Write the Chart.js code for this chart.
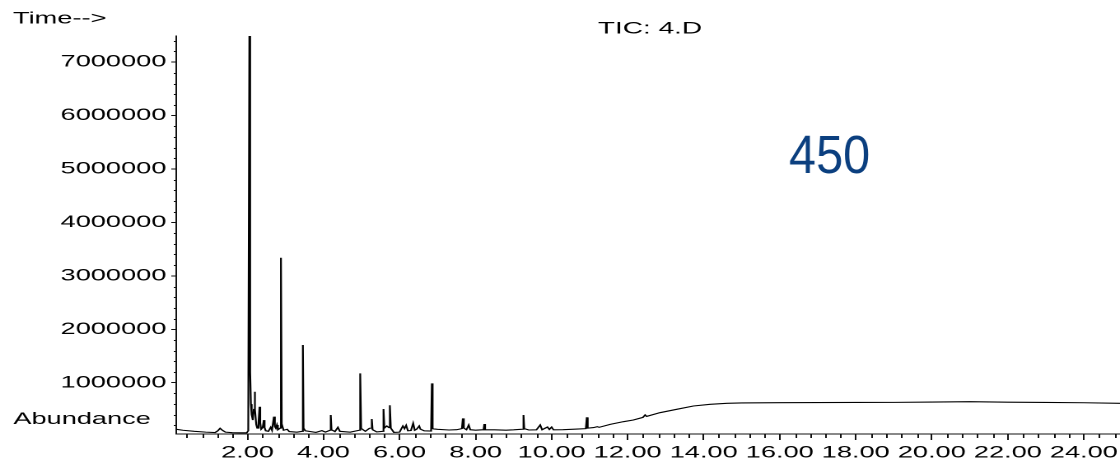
<!DOCTYPE html>
<html>
<head>
<meta charset="utf-8">
<title>TIC: 4.D</title>
<script src="https://cdn.jsdelivr.net/npm/chart.js@4.4.1/dist/chart.umd.min.js"></script>
<style>
  html, body { margin: 0; padding: 0; background: #fff; overflow: hidden; }
  /* the printout is stretched sideways, so the whole canvas is too */
  #wrap { width: 680px; height: 462px; transform: scaleX(1.647); transform-origin: 0 0; }
</style>
</head>
<body>
<div id="wrap"><canvas id="ticChart" width="680" height="462"></canvas></div>
<script>
// retention time (min) and abundance
var retTime = [
  0.13, 0.3, 0.6, 0.9, 1.15, 1.22, 1.28, 1.34, 1.42, 1.6, 1.8, 1.98,
  2.02, 2.05, 2.07, 2.09, 2.11, 2.14, 2.165, 2.186, 2.205,
  2.23, 2.256, 2.29, 2.317, 2.335, 2.36, 2.40, 2.43, 2.45, 2.48, 2.55, 2.61,
  2.645, 2.695, 2.72, 2.745, 2.774, 2.80, 2.86, 2.88, 2.90, 2.95,
  3.045, 3.1, 3.3, 3.44, 3.457, 3.475, 3.52, 3.8, 3.957, 4.05, 4.17, 4.19,
  4.21, 4.30, 4.378, 4.43, 4.7, 4.94, 4.965, 4.99, 5.02, 5.1, 5.21,
  5.25, 5.27, 5.29, 5.40, 5.56, 5.578, 5.60, 5.665, 5.72, 5.745, 5.77, 5.85,
  6.0, 6.087, 6.13, 6.174, 6.22, 6.30, 6.358, 6.40, 6.45, 6.517, 6.55, 6.65,
  6.83, 6.85, 6.87, 6.9, 7.0, 7.3, 7.5, 7.64, 7.665, 7.69, 7.76,
  7.82, 7.86, 8.0, 8.21, 8.23, 8.25, 8.5, 8.8, 9.0, 9.24, 9.26, 9.28,
  9.40, 9.6, 9.70, 9.75, 9.89, 9.94, 10.0, 10.05, 10.3, 10.6, 10.9, 10.925,
  10.95, 11.1, 11.2, 11.25, 11.54, 11.89, 12.15, 12.4, 12.46, 12.5, 12.85, 13.29,
  13.73, 14.17, 14.61, 15.0, 16.0, 17.0, 18.0, 19.0, 20.0, 21.0, 22.0, 23.0,
  24.0, 24.95
];
var abundance = [
  128000, 110000, 90000, 75000, 68000, 100000, 147000, 110000, 75000, 65000, 62000, 62000,
  100000, 7490000, 1200000, 600000, 400000, 300000, 500000, 830000, 500000,
  220000, 150000, 250000, 550000, 250000, 130000, 160000, 300000, 160000, 100000, 90000, 165000,
  110000, 365000, 180000, 150000, 208000, 120000, 150000, 3340000, 230000, 110000,
  128000, 85000, 75000, 90000, 1705000, 150000, 100000, 70000, 102000, 75000, 110000, 396000,
  120000, 85000, 165000, 90000, 75000, 110000, 1175000, 140000, 130000, 90000, 147000,
  150000, 321000, 120000, 80000, 90000, 508000, 150000, 190000, 160000, 577000, 150000, 70000,
  75000, 190000, 140000, 202000, 100000, 105000, 240000, 110000, 130000, 190000, 130000, 100000,
  95000, 988000, 140000, 135000, 128000, 115000, 120000, 140000, 333000, 150000, 120000,
  208000, 120000, 112000, 120000, 227000, 120000, 118000, 112000, 118000, 130000, 396000, 140000,
  115000, 118000, 208000, 120000, 170000, 125000, 170000, 118000, 120000, 130000, 140000, 352000,
  150000, 160000, 177000, 165000, 221000, 271000, 302000, 350000, 396000, 370000, 439000, 502000,
  564000, 595000, 614000, 622000, 626000, 628000, 630000, 632000, 638000, 645000, 636000, 630000,
  625000, 614000
];

// axis labels
var timeTicks = [2, 4, 6, 8, 10, 12, 14, 16, 18, 20, 22, 24];
var abundTicks = [1000000, 2000000, 3000000, 4000000, 5000000, 6000000, 7000000];

var SX = 1.647;
var FONT = '"Liberation Sans", Arial, Helvetica, sans-serif';

var points = [];
for (var i = 0; i < retTime.length; i++) {
  points.push({x: retTime[i], y: abundance[i]});
}

//small ticks and the free texts of the printout
var extras = {
  id: 'extras',
  afterDraw: function (chart) {
    var ctx = chart.ctx;
    var xs = chart.scales.x, ys = chart.scales.y;
    var area = chart.chartArea;
    ctx.save();
    ctx.strokeStyle = '#111';
    ctx.lineWidth = 1;
    ctx.beginPath();
    for (var k = 1; k * 0.4 < xs.max; k++) {
      if (k % 5 == 0) continue;
      var px = Math.round(xs.getPixelForValue(k * 0.4)) + 0.5;
      ctx.moveTo(px, area.bottom);
      ctx.lineTo(px, area.bottom + 4);
    }
    for (var m = 1; m * 200000 < ys.max; m++) {
      if (m % 5 == 0) continue;
      var py = Math.round(ys.getPixelForValue(m * 200000)) + 0.5;
      ctx.moveTo(area.left, py);
      ctx.lineTo(area.left - 1.5, py);
    }
    ctx.stroke();

    ctx.fillStyle = '#000';
    ctx.textBaseline = 'alphabetic';
    ctx.textAlign = 'left';
    ctx.font = '16.5px ' + FONT;
    ctx.fillText('Time-->', 7.9, 23.3);
    ctx.fillText('Abundance', 8.1, 424);
    ctx.font = '17px ' + FONT;
    ctx.fillText('TIC: 4.D', 363, 33.3);

    // the sample number was typed on afterwards, not stretched
    ctx.translate(789 / SX, 173);
    ctx.scale(0.9 / SX, 1);
    ctx.font = '54px ' + FONT;
    ctx.fillStyle = '#0b3f7f';
    ctx.fillText('450', 0, 0);
    ctx.restore();
  }
};

new Chart('ticChart', {
  type: 'line',
  data: {
    datasets: [{
      data: points,
      borderColor: '#000',
      borderWidth: 1.1,
      pointRadius: 0,
      tension: 0,
      fill: false
    }]
  },
  options: {
    responsive: false,
    animation: false,
    devicePixelRatio: 2,
    layout: { padding: { top: 36, left: 0, right: 0, bottom: 0 } },
    plugins: { legend: { display: false }, tooltip: { enabled: false } },
    scales: {
      x: {
        type: 'linear',
        min: 0.126,
        max: 24.95,
        afterBuildTicks: function (s) { s.ticks = timeTicks.map(function (v) { return {value: v}; }); },
        afterFit: function (s) { s.height = 28; s.paddingLeft = 0; s.paddingRight = 0; },
        grid: { drawOnChartArea: false, tickLength: 6, tickColor: '#111' },
        border: { color: '#111', width: 1 },
        ticks: {
          color: '#000', padding: 3, maxRotation: 0, autoSkip: false,
          font: { family: FONT, size: 16.5 },
          callback: function (v) { return v.toFixed(2); }
        }
      },
      y: {
        type: 'linear',
        min: 40000,
        max: 7490000,
        afterBuildTicks: function (s) { s.ticks = abundTicks.map(function (v) { return {value: v}; }); },
        afterFit: function (s) { s.width = 107; s.paddingTop = 0; s.paddingBottom = 0; },
        grid: { drawOnChartArea: false, tickLength: 3, tickColor: '#111' },
        border: { color: '#111', width: 1 },
        ticks: {
          color: '#000', padding: 3, autoSkip: false,
          font: { family: FONT, size: 16.5 },
          callback: function (v) { return String(v); }
        }
      }
    }
  },
  plugins: [extras]
});
</script>
</body>
</html>
